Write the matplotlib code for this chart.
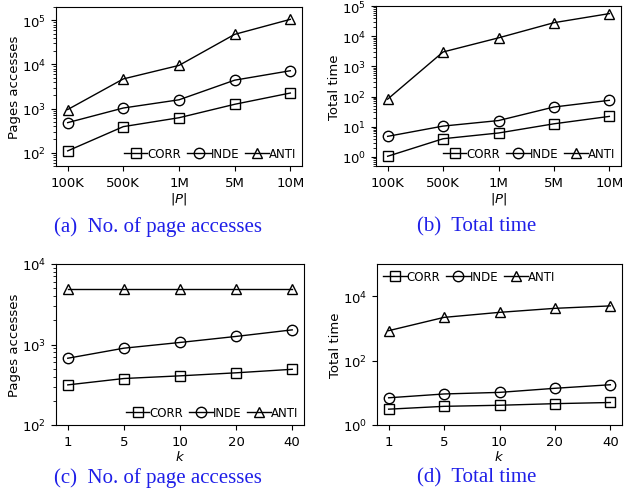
import numpy as np
import matplotlib
matplotlib.use("Agg")
import matplotlib.pyplot as plt
from matplotlib.ticker import NullLocator

# x categories
sizes = ["100K", "500K", "1M", "5M", "10M"]
ks = ["1", "5", "10", "20", "40"]

# (a) page accesses vs |P|
pages_p_corr = [110, 390, 620, 1250, 2250]
pages_p_inde = [480, 1030, 1580, 4400, 7200]
pages_p_anti = [950, 4700, 9500, 48000, 105000]

# (b) total time vs |P|
time_p_corr = [1.05, 4.0, 6.2, 12.5, 22]
time_p_inde = [4.8, 10.5, 16, 45, 75]
time_p_anti = [82, 3000, 8800, 28000, 56000]

# (c) page accesses vs k
pages_k_corr = [315, 378, 408, 445, 492]
pages_k_inde = [675, 900, 1060, 1260, 1520]
pages_k_anti = [4850, 4850, 4850, 4850, 4850]

# (d) total time vs k
time_k_corr = [3.1, 3.8, 4.1, 4.6, 5.0]
time_k_inde = [7.0, 9.2, 10.3, 13.8, 17.8]
time_k_anti = [850, 2200, 3150, 4200, 5000]

W, H = 631, 502
fig = plt.figure(figsize=(W / 100, H / 100), dpi=100)


def make_ax(l, r, t, b):
    return fig.add_axes([l / W, 1 - b / H, (r - l) / W, (b - t) / H])


def draw(ax, cats, corr, inde, anti, ylim, ylabel, xlabel, legend_loc):
    x = np.arange(len(cats))
    style = dict(color="black", lw=1.0, mfc="none", mec="black", ms=7.5, mew=1.0)
    ax.plot(x, corr, marker="s", label="CORR", **style)
    ax.plot(x, inde, marker="o", label="INDE", **style)
    ax.plot(x, anti, marker="^", label="ANTI", **style)
    ax.set_yscale("log")
    ax.set_ylim(*ylim)
    ax.set_xlim(-0.21, len(cats) - 0.79)
    ax.set_xticks(x)
    ax.set_xticklabels(cats)
    ax.tick_params(labelsize=9.5)
    ax.set_ylabel(ylabel, fontsize=9.5, labelpad=0.5)
    ax.set_xlabel(xlabel, fontsize=9.5, labelpad=1)
    ax.legend(loc=legend_loc, ncol=3, frameon=False, fontsize=8.5,
              handlelength=2.0, handletextpad=0.0, columnspacing=0.5,
              borderaxespad=0.3, borderpad=0.2)


ax_a = make_ax(56, 302, 8, 167)
draw(ax_a, sizes, pages_p_corr, pages_p_inde, pages_p_anti, (50, 2e5),
     "Pages accesses", "|$P$|", "lower right")

ax_b = make_ax(376, 621, 7, 167)
draw(ax_b, sizes, time_p_corr, time_p_inde, time_p_anti, (0.5, 1e5),
     "Total time", "|$P$|", "lower right")

ax_c = make_ax(56, 304, 265, 426)
draw(ax_c, ks, pages_k_corr, pages_k_inde, pages_k_anti, (100, 1e4),
     "Pages accesses", "$k$", "lower right")

ax_d = make_ax(377, 622, 265, 426)
draw(ax_d, ks, time_k_corr, time_k_inde, time_k_anti, (1, 1e5),
     "Total time", "$k$", "upper left")
ax_d.set_yticks([1, 1e2, 1e4])
ax_d.yaxis.set_minor_locator(NullLocator())
ax_d.set_ylim(1, 1e5)

cap = dict(fontsize=15, family="Liberation Serif", color="#1f1fe8",
           ha="center", va="center")
fig.text(158 / W, 1 - 227 / H, "(a)  No. of page accesses", **cap)
fig.text(477 / W, 1 - 227 / H, "(b)  Total time", **cap)
fig.text(158 / W, 1 - 478 / H, "(c)  No. of page accesses", **cap)
fig.text(477 / W, 1 - 478 / H, "(d)  Total time", **cap)

fig.savefig("out.png", dpi=100)
